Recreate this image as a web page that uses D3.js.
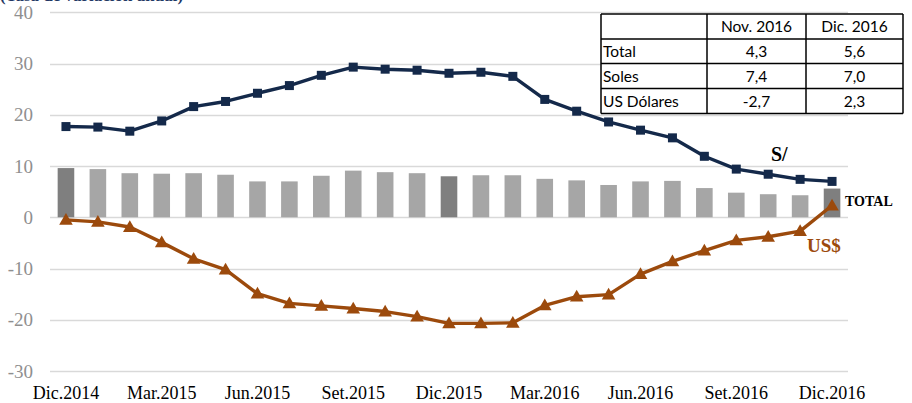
<!DOCTYPE html>
<html lang="es">
<head>
  <meta charset="UTF-8" />
  <title>Crédito - tasa de variación anual</title>
  <script src="https://d3js.org/d3.v7.min.js"></script>
  <style>
    html, body {
      margin: 0;
      padding: 0;
      background: #fff;
      overflow: hidden;
    }
    svg { display: block; }
  </style>
</head>
<body>
  <svg id="chart" width="912" height="403"></svg>

  <script>
    // datos
    const months = ["Dic.2014","Ene.2015","Feb.2015","Mar.2015","Abr.2015","May.2015","Jun.2015","Jul.2015",
      "Ago.2015","Set.2015","Oct.2015","Nov.2015","Dic.2015","Ene.2016","Feb.2016","Mar.2016","Abr.2016",
      "May.2016","Jun.2016","Jul.2016","Ago.2016","Set.2016","Oct.2016","Nov.2016","Dic.2016"];
    const tickLabels = ["Dic.2014","Mar.2015","Jun.2015","Set.2015","Dic.2015","Mar.2016","Jun.2016","Set.2016","Dic.2016"];
    const darkBars = ["Dic.2014","Dic.2015","Dic.2016"];
    const total = [9.6,9.4,8.6,8.5,8.6,8.3,7.0,7.0,8.1,9.1,8.8,8.6,8.0,8.2,8.2,7.5,7.2,6.3,7.0,7.1,5.7,4.8,4.5,4.3,5.6];
    const soles = [17.7,17.6,16.8,18.8,21.6,22.6,24.2,25.7,27.7,29.3,28.9,28.7,28.1,28.3,27.5,23.0,20.7,18.6,17.0,15.5,11.9,9.4,8.4,7.4,7.0];
    const usd = [-0.5,-0.9,-1.9,-4.9,-8.1,-10.2,-14.9,-16.8,-17.3,-17.8,-18.4,-19.4,-20.7,-20.7,-20.6,-17.2,-15.5,-15.1,-11.1,-8.6,-6.5,-4.5,-3.8,-2.7,2.3];
    const yTicks = [40,30,20,10,0,-10,-20,-30];

    const tableHead = ["", "Nov. 2016", "Dic. 2016"];
    const tableRows = [
      ["Total", "4,3", "5,6"],
      ["Soles", "7,4", "7,0"],
      ["US Dólares", "-2,7", "2,3"]
    ];

    const navy = "#14294a";
    const brown = "#9c4a0c";
    const serif = "'Liberation Serif', 'DejaVu Serif', serif";

    const svg = d3.select("#chart");

    const x = d3.scaleBand().domain(months).range([50, 848]).paddingInner(0.48).paddingOuter(0.24);
    const y = d3.scaleLinear().domain([-30, 40]).range([371, 12.3]);

    // titulo recortado arriba
    svg.append("text")
      .attr("x", 0)
      .attr("y", 1)
      .style("font-family", serif)
      .style("font-weight", "bold")
      .style("font-size", "17px")
      .style("fill", "#1f3864")
      .text("(Tasa de variación anual)");

    // grid
    svg.append("g")
      .selectAll("line")
      .data(yTicks)
      .join("line")
      .attr("x1", 50)
      .attr("x2", 848)
      .attr("y1", d => Math.round(y(d)) + 0.5)
      .attr("y2", d => Math.round(y(d)) + 0.5)
      .attr("stroke", "#d9d9d9")
      .attr("stroke-width", 1.3);

    // eje y
    svg.append("g")
      .selectAll("text")
      .data(yTicks)
      .join("text")
      .attr("x", 33)
      .attr("y", d => y(d) + 6.5)
      .attr("text-anchor", "end")
      .style("font-family", serif)
      .style("font-size", "19px")
      .style("fill", "#8f8f8f")
      .text(d => d);

    // eje x
    svg.append("g")
      .selectAll("text")
      .data(tickLabels)
      .join("text")
      .attr("x", d => x(d) + x.bandwidth() / 2)
      .attr("y", 399)
      .attr("text-anchor", "middle")
      .style("font-family", serif)
      .style("font-size", "18px")
      .style("fill", "#000")
      .text(d => d);

    // barras total
    svg.append("g")
      .selectAll("rect")
      .data(months)
      .join("rect")
      .attr("x", d => x(d))
      .attr("width", x.bandwidth())
      .attr("y", (d, i) => y(Math.max(0, total[i])))
      .attr("height", (d, i) => Math.abs(y(total[i]) - y(0)))
      .attr("fill", d => darkBars.includes(d) ? "#7f7f7f" : "#a6a6a6");

    const cx = d => x(d) + x.bandwidth() / 2;

    // linea soles
    const lineSoles = d3.line().x((d, i) => cx(months[i])).y(d => y(d));
    svg.append("path")
      .datum(soles)
      .attr("d", lineSoles)
      .attr("fill", "none")
      .attr("stroke", navy)
      .attr("stroke-width", 3.4)
      .attr("stroke-linejoin", "round");

    svg.append("g")
      .selectAll("rect")
      .data(soles)
      .join("rect")
      .attr("x", (d, i) => cx(months[i]) - 4.5)
      .attr("y", d => y(d) - 4.5)
      .attr("width", 9)
      .attr("height", 9)
      .attr("fill", navy);

    // linea dolares
    svg.append("path")
      .datum(usd)
      .attr("d", lineSoles)
      .attr("fill", "none")
      .attr("stroke", brown)
      .attr("stroke-width", 3.4)
      .attr("stroke-linejoin", "round");

    svg.append("g")
      .selectAll("path")
      .data(usd)
      .join("path")
      .attr("d", d3.symbol().type(d3.symbolTriangle).size(80))
      .attr("transform", (d, i) => `translate(${cx(months[i])},${y(d) + 1})`)
      .attr("fill", brown);

    // etiquetas de series
    svg.append("text")
      .attr("x", 771).attr("y", 161)
      .style("font-family", serif).style("font-weight", "bold").style("font-size", "20px")
      .style("fill", "#000").text("S/");
    svg.append("text")
      .attr("x", 845).attr("y", 206)
      .style("font-family", serif).style("font-weight", "bold").style("font-size", "14px")
      .style("fill", "#000").text("TOTAL");
    svg.append("text")
      .attr("x", 807).attr("y", 252)
      .style("font-family", serif).style("font-weight", "bold").style("font-size", "19px")
      .style("fill", brown).text("US$");

    // tabla
    const colX = [601, 707, 806, 903];
    const rowY = [14, 39, 63.5, 88.5, 113.5];
    const tbl = svg.append("g").style("font-family", "Lato, 'Open Sans', sans-serif").style("font-size", "15.5px");
    tbl.append("rect")
      .attr("x", colX[0]).attr("y", rowY[0])
      .attr("width", colX[3] - colX[0]).attr("height", rowY[4] - rowY[0])
      .attr("fill", "#fff");
    const allRows = [tableHead].concat(tableRows);
    allRows.forEach((row, r) => {
      row.forEach((cell, c) => {
        tbl.append("text")
          .attr("x", c === 0 ? colX[0] + 2 : (colX[c] + colX[c + 1]) / 2)
          .attr("y", rowY[r] + 18)
          .attr("text-anchor", c === 0 ? "start" : "middle")
          .style("fill", "#000")
          .text(cell);
      });
    });
    rowY.forEach(yy => {
      tbl.append("line").attr("x1", colX[0]).attr("x2", colX[3]).attr("y1", yy).attr("y2", yy)
        .attr("stroke", "#000").attr("stroke-width", 1.5);
    });
    colX.forEach(xx => {
      tbl.append("line").attr("x1", xx).attr("x2", xx).attr("y1", rowY[0]).attr("y2", rowY[4])
        .attr("stroke", "#000").attr("stroke-width", 1.5);
    });
  </script>
</body>
</html>
